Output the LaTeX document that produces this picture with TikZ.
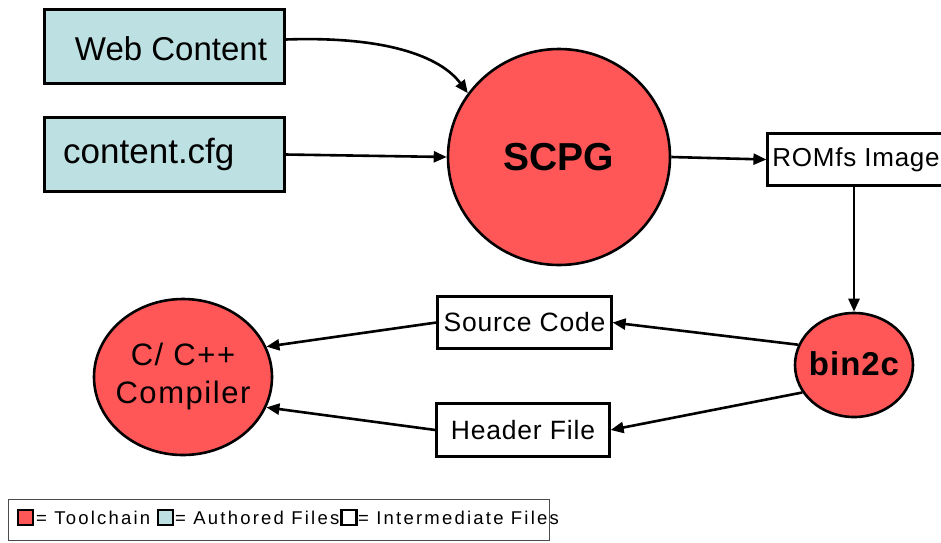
\documentclass[tikz,border=0pt]{standalone}
\usepackage{fontspec}
\setmainfont{Liberation Sans}
\newfontfamily\spfont[LetterSpace=3]{Liberation Sans}
\newfontfamily\cpfont[LetterSpace=5]{Liberation Sans}
\newfontfamily\legfont[LetterSpace=12]{Liberation Sans}
\usetikzlibrary{arrows.meta,shapes.geometric}
\definecolor{tool}{HTML}{FF5757}
\definecolor{auth}{HTML}{BDE0E2}
\begin{document}
\begin{tikzpicture}[x=1pt,y=-1pt,
  box/.style={draw, line width=2.2pt, inner sep=0pt},
  oval/.style={ellipse, draw, line width=2.6pt, fill=tool, inner sep=0pt},
  conn/.style={line width=2.6pt, -{Triangle[length=13pt,width=11pt]}},
  sq/.style={draw, line width=2.2pt, minimum size=15pt, inner sep=0pt},
  legtext/.style={anchor=base west, inner sep=0pt, font=\legfont\fontsize{18.5}{20}\selectfont}]
\useasboundingbox (0,0) rectangle (941,542);
% authored files
\node[box, fill=auth, minimum width=240pt, minimum height=74pt] (wc) at (164.5,46.5) {};
\node[anchor=base, inner sep=0pt] (wct) at (171,60) {\fontsize{33}{38}\selectfont Web Content};
\node[box, fill=auth, minimum width=240pt, minimum height=74pt] (cfg) at (164.5,154.5) {};
\node[anchor=base west, inner sep=0pt] (cfgt) at (63,163) {\fontsize{35}{40}\selectfont content.cfg};
% toolchain
\node[oval, minimum width=222pt, minimum height=216pt] (scpg) at (559,157)
  {\fontsize{39}{44}\selectfont\bfseries SCPG};
\node[oval, minimum width=118pt, minimum height=104pt] (bin) at (854,365)
  {\makebox[0pt]{\raisebox{3pt}{\spfont\fontsize{33}{38}\selectfont\bfseries bin2c}}};
\node[oval, minimum width=178pt, minimum height=156pt] (comp) at (183,377)
  {\makebox[0pt]{\cpfont\fontsize{31}{38}\selectfont
   \begin{tabular}{@{}c@{}}C/ C+{}+\\Compiler\end{tabular}}};
% intermediate files
\node[box, fill=white, minimum width=177pt, minimum height=52pt] (rom) at (856,159.5)
  {\spfont\fontsize{26}{30}\selectfont ROMfs Image};
\node[box, fill=white, minimum width=174pt, minimum height=52pt] (src) at (524.5,322.5)
  {\spfont\fontsize{26.5}{30}\selectfont Source Code};
\node[box, fill=white, minimum width=173pt, minimum height=53pt] (hdr) at (523,430)
  {\spfont\fontsize{26.5}{30}\selectfont Header File};
% connectors
\draw[conn] ([yshift=7pt]wc.east) .. controls (385,36) and (440,56) .. (scpg.145);
\draw[conn] (cfg.east) -- (scpg.west);
\draw[conn] (scpg.east) -- (rom.west);
\draw[conn] (bin.north |- rom.south) -- (bin.north);
\draw[conn] (bin.160) -- (src.east);
\draw[conn] (bin.208) -- (hdr.east);
\draw[conn] (src.west) -- (comp.20);
\draw[conn] (hdr.west) -- (comp.-20);
% legend
\node[draw=black!70, line width=1.2pt, minimum width=541pt, minimum height=41pt, anchor=north west, inner sep=0pt] (leg) at (8,499) {};
\node[sq, fill=tool] (s1) at (25.5,517.5) {};
\node[legtext] (l1) at (36,524) {= Toolchain};
\node[sq, fill=auth] (s2) at (165.5,517.5) {};
\node[legtext] (l2) at (175,524) {= Authored Files};
\node[sq, fill=white] (s3) at (349,517.5) {};
\node[legtext] (l3) at (358,524) {= Intermediate Files};
\end{tikzpicture}
\end{document}
